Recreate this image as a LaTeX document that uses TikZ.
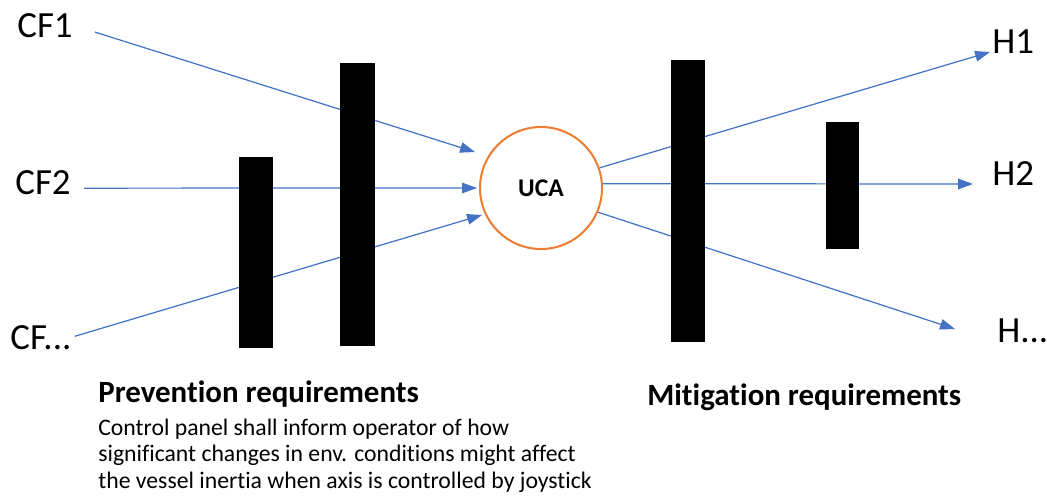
\documentclass[tikz,border=0pt]{standalone}
\usepackage{fontspec}
\setmainfont[Ligatures=NoCommon]{Carlito}
\usetikzlibrary{arrows.meta}

\definecolor{flowblue}{HTML}{4472C4}
\definecolor{ucaorange}{HTML}{ED7D31}

\begin{document}
\begin{tikzpicture}[
        x=0.02cm, y=-0.02cm,
        flow/.style={flowblue, line width=0.7pt,
            -{Triangle[length=8.5pt,width=6pt]}},
        label/.style={inner sep=0, anchor=base west,
            font=\fontsize{21}{25}\selectfont},
        heading/.style={inner sep=0, anchor=base west,
            font=\bfseries\fontsize{17.6}{21}\selectfont},
        barrier/.style={fill=black}
    ]
    \useasboundingbox (0,0) rectangle (1047,497);

    % causal factors
    \node[label] (cfa) at (17,37) {CF1};
    \node[label] (cfb) at (15,194) {CF2};
    \node[label] (cfc) at (10,349) {CF...};

    % hazards
    \node[label] (ha) at (992,53) {H1};
    \node[label] (hb) at (992,185) {H2};
    \node[label] (hc) at (997,342) {H...};

    % unsafe control action
    \node[circle, draw=ucaorange, line width=1.15pt, minimum size=122*0.02cm,
          inner sep=0, font=\bfseries\fontsize{14.5}{17}\selectfont]
        (uca) at (541,188) {UCA};

    \coordinate (tipa) at (475,152);
    \coordinate (tipb) at (477,188);
    \coordinate (tipc) at (482,215);
    \coordinate (tipha) at (990,52);
    \coordinate (tiphb) at (973,184);
    \coordinate (tiphc) at (955,329);

    \draw[flow, shorten <=23*0.02cm] (cfa.east) -- (tipa);
    \draw[flow, shorten <=13*0.02cm] ([yshift=-0.12cm]cfb.east) -- (tipb);
    \draw[flow, shorten <=3*0.02cm] (cfc.east) -- (tipc);
    \draw[flow] (uca.19) -- (tipha);
    \draw[flow] (uca.4) -- (tiphb);
    \draw[flow] (uca.-23) -- (tiphc);

    % barriers
    \fill[barrier] (239,157) rectangle (273,348);
    \fill[barrier] (340,63) rectangle (375,346);
    \fill[barrier] (671,60) rectangle (705,342);
    \fill[barrier] (826,122) rectangle (859,249);

    % requirements
    \node[heading] (prev) at (98,402) {Prevention requirements};
    \node[heading] (miti) at (647,405) {Mitigation requirements};
    \node[inner sep=0, anchor=base west, align=left,
          font=\fontsize{13.5}{15}\selectfont] (prevtext) at (98,488)
        {Control panel shall inform operator of how\\
         significant changes in env. conditions might affect\\
         the vessel inertia when axis is controlled by joystick};
\end{tikzpicture}
\end{document}
